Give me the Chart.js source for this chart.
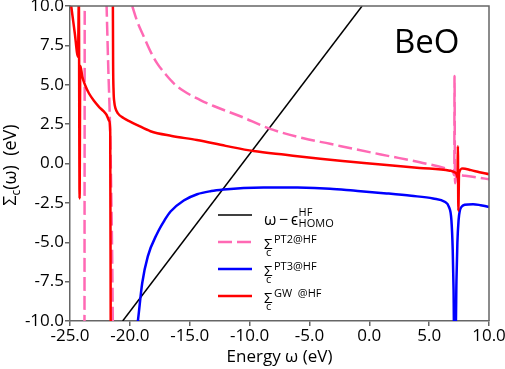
<!DOCTYPE html>
<html lang="en">
<head>
<meta charset="UTF-8">
<title>BeO self-energy</title>
<script src="https://cdn.jsdelivr.net/npm/chart.js"></script>
<style>
  body { margin: 0; background: #fff; }
  canvas { display: block; }
</style>
</head>
<body>
<canvas id="sigma-chart" width="505" height="369"></canvas>
<script>
// energies (eV) and self-energy values; NaN = break in the line
const hfX = [-20.6, -0.6];
const hfY = [-10, 10];

const pt2X = [-23.79, -23.77, -22.5, -21.95, -21.8, -21.67, -21.55, -21.46, -21.42, -20.5,
  -19.8, -19.4, -18.83, -18.3, -17.72, -17.0, -16.33, -15.5, -14.11, -13.0, -10.78, -8.28,
  -5.5, -3.28, -1.33, 1.45, 4.22, 6.72, 7.0, 7.1, 7.12, 7.16, 7.3, 8.0, 9.0, 10.0];
const pt2Y = [-10.5, 10.5, NaN, 10.2, 6.0, 2.8, -2.0, -7.0, -10.5, NaN,
  10.0, 9.05, 8.05, 7.15, 6.36, 5.65, 5.09, 4.6, 4.03, 3.65, 3.0, 2.2,
  1.6, 1.25, 0.93, 0.5, 0.08, -0.42, -0.55, -0.75, 5.56, -1.25, -0.72, -0.78, -0.88, -1.0];

const pt3X = [-19.42, -19.33, -18.97, -18.5, -17.72, -17.1, -16.6, -15.5, -14.38, -13.2,
  -12.17, -10.5, -8.83, -6.0, -3.28, -1.33, 1.45, 3.5, 5.33, 6.3, 6.65, 6.86, 6.97, 7.04,
  7.08, 7.22, 7.28, 7.36, 7.46, 7.56, 7.75, 7.97, 8.67, 9.3, 9.92, 10.0];
const pt3Y = [-10.5, -10.0, -7.6, -5.9, -4.44, -3.6, -3.05, -2.35, -1.95, -1.75,
  -1.65, -1.55, -1.52, -1.53, -1.6, -1.72, -1.9, -2.05, -2.22, -2.43, -2.75, -3.6, -5.5, -8.0,
  -10.5, -10.5, -7.5, -5.0, -3.6, -3.0, -2.72, -2.62, -2.58, -2.65, -2.75, -2.77];

const gwX = [-25.0, -24.9, -24.6, -24.33, -24.26, -24.2, -24.14, -23.97, -23.7, -23.42,
  -23.0, -22.58, -22.2, -21.94, -21.72, -21.64, -21.6, -21.5, -21.42, -21.4, -21.36,
  -21.3, -21.2, -21.0, -20.5, -19.94, -19.38, -18.28, -16.5, -14.4, -12.0, -9.67, -7.0,
  -4.1, -1.33, 1.45, 4.2, 6.72, 7.1, 7.3, 7.37, 7.4, 7.44, 7.5, 7.8, 8.5, 9.2, 10.0];
const gwY = [10.5, 10.0, 8.27, 6.78, 10.5, -2.22, 6.2, 5.51, 4.9, 4.46,
  3.98, 3.6, 3.32, 3.08, 2.7, 2.0, -10.5, NaN, 10.5, 6.5, 4.6,
  3.9, 3.5, 3.18, 2.87, 2.65, 2.44, 2.05, 1.75, 1.49, 1.12, 0.79, 0.55,
  0.3, 0.1, -0.1, -0.28, -0.46, -0.55, -0.7, -0.9, 1.1, -3.0, -0.6, -0.31, -0.42, -0.55, -0.68];

const seriesLabels = ['ω − ϵ HF HOMO', 'Σc PT2@HF', 'Σc PT3@HF', 'Σc GW @HF'];
const seriesColors = ['#000000', '#ff69b4', '#0000ff', '#ff0000'];

function toPoints(xs, ys) {
  return xs.map((x, i) => ({ x: x, y: isNaN(ys[i]) ? null : ys[i] }));
}

const fontFamily = "'Open Sans', sans-serif";
Chart.defaults.font.family = fontFamily;
Chart.defaults.color = '#000';

// frame, BeO label, y title and legend with sub/superscripts
const decorations = {
  id: 'decorations',
  afterDraw(chart) {
    const ctx = chart.ctx;
    const a = chart.chartArea;
    ctx.save();
    ctx.strokeStyle = '#666';
    ctx.lineWidth = 1.5;
    ctx.beginPath();
    ctx.moveTo(a.left, a.top);
    ctx.lineTo(a.right, a.top);
    ctx.lineTo(a.right, a.bottom);
    ctx.stroke();

    ctx.fillStyle = '#000';
    ctx.textAlign = 'left';
    ctx.textBaseline = 'alphabetic';
    ctx.font = '33px ' + fontFamily;
    ctx.fillText('BeO', 394, 53);

    // y axis title
    ctx.save();
    ctx.translate(16, 165);
    ctx.rotate(-Math.PI / 2);
    ctx.font = '18px ' + fontFamily;
    const w1 = ctx.measureText('Σ').width;
    ctx.font = '12px ' + fontFamily;
    const w2 = ctx.measureText('c').width;
    ctx.font = '18px ' + fontFamily;
    const w3 = ctx.measureText('(ω)  (eV)').width;
    let x0 = -(w1 + w2 + w3) / 2;
    ctx.fillText('Σ', x0, 0);
    ctx.font = '12px ' + fontFamily;
    ctx.fillText('c', x0 + w1, 4);
    ctx.font = '18px ' + fontFamily;
    ctx.fillText('(ω)  (eV)', x0 + w1 + w2, 0);
    ctx.restore();

    // legend
    const rows = [215, 242, 269, 296];
    const sups = [null, 'PT2@HF', 'PT3@HF', 'GW  @HF'];
    rows.forEach((y, i) => {
      ctx.strokeStyle = seriesColors[i];
      ctx.lineWidth = i === 0 ? 1.5 : 2.5;
      ctx.setLineDash(i === 1 ? [14, 5] : []);
      ctx.beginPath();
      ctx.moveTo(218, y);
      ctx.lineTo(252, y);
      ctx.stroke();
      ctx.setLineDash([]);
      ctx.fillStyle = '#000';
      if (i === 0) {
        ctx.font = '16px ' + fontFamily;
        ctx.fillText('ω', 264, y + 10);
        ctx.fillText('−', 279, y + 10);
        ctx.fillText('ϵ', 291, y + 10);
        const ex = 291 + ctx.measureText('ϵ').width + 0.5;
        ctx.font = '11px ' + fontFamily;
        ctx.fillText('HF', ex, y + 1);
        ctx.fillText('HOMO', ex, y + 12);
      } else {
        ctx.font = '15px ' + fontFamily;
        ctx.fillText('Σ', 264, y + 7);
        ctx.font = '11px ' + fontFamily;
        ctx.fillText('c', 266, y + 14);
        ctx.fillText(sups[i], 274, y + 1);
      }
    });
    ctx.restore();
  }
};

const tickFont = { size: 17, family: fontFamily };
const smooth = { cubicInterpolationMode: 'monotone' };

new Chart(document.getElementById('sigma-chart'), {
  type: 'scatter',
  data: {
    datasets: [
      { label: seriesLabels[0], data: toPoints(hfX, hfY), borderColor: seriesColors[0], borderWidth: 1.5, order: 3 },
      Object.assign({ label: seriesLabels[1], data: toPoints(pt2X, pt2Y), borderColor: seriesColors[1], borderWidth: 2.5, borderDash: [14, 5], order: 2 }, smooth),
      Object.assign({ label: seriesLabels[2], data: toPoints(pt3X, pt3Y), borderColor: seriesColors[2], borderWidth: 2.5, order: 1 }, smooth),
      Object.assign({ label: seriesLabels[3], data: toPoints(gwX, gwY), borderColor: seriesColors[3], borderWidth: 2.5, order: 0 }, smooth)
    ].map(d => Object.assign(d, { showLine: true, pointRadius: 0, spanGaps: false, clip: 0 }))
  },
  options: {
    responsive: false,
    animation: false,
    layout: { padding: { top: 6, right: 16, left: 0, bottom: 0 } },
    plugins: { legend: { display: false }, tooltip: { enabled: false } },
    scales: {
      x: {
        type: 'linear', min: -25, max: 10,
        ticks: { stepSize: 5, font: tickFont, color: '#000', padding: 0, maxRotation: 0, autoSkip: false,
          callback: v => v.toFixed(1) },
        grid: { drawOnChartArea: false, tickLength: 5, color: '#666', lineWidth: 1.5 },
        border: { color: '#666', width: 1.5 },
        title: { display: true, text: 'Energy ω (eV)', font: { size: 17, family: fontFamily }, color: '#000', padding: { top: 0, bottom: 2 } },
        afterFit: s => { s.height = 48; s.paddingLeft = 0; s.paddingRight = 0; }
      },
      y: {
        min: -10, max: 10,
        ticks: { stepSize: 2.5, font: tickFont, color: '#000', padding: 1,
          callback: v => v.toFixed(1) },
        grid: { drawOnChartArea: false, tickLength: 5, color: '#666', lineWidth: 1.5 },
        border: { color: '#666', width: 1.5 },
        afterFit: s => { s.width = 70; s.paddingTop = 0; s.paddingBottom = 0; }
      }
    }
  },
  plugins: [decorations]
});
</script>
</body>
</html>
